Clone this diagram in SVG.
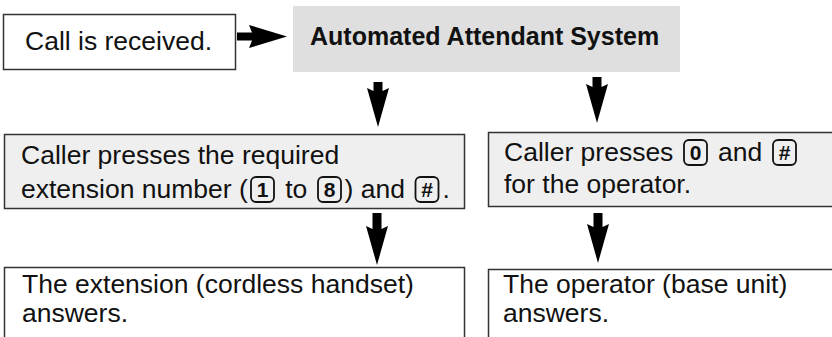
<svg xmlns="http://www.w3.org/2000/svg" width="832" height="337" viewBox="0 0 832 337">
<style>
text{font-family:"Liberation Sans",Arial,Helvetica,sans-serif;font-size:26.5px;fill:#111}
.b{font-weight:bold;font-size:25px}
.k{font-weight:bold;font-size:21px;text-anchor:middle}
.key{fill:none;stroke:#111;stroke-width:1.8}
.box{stroke:#333;stroke-width:1.5}
.arr{fill:#000}
</style>
<g id="connectors">
<path class="arr" d="M237 32.5H252L249 25L287 36.5L249 48L252 40.5H237Z"/>
<path class="arr" d="M373.5 82H382.5V91L389 88L378 127L367 88L373.5 91Z"/>
<path class="arr" d="M592.5 77H601.5V87L608 84L597 123L586 84L592.5 87Z"/>
<path class="arr" d="M372.5 213H381.5V229L388 226L377 265L366 226L372.5 229Z"/>
<path class="arr" d="M593.5 213H602.5V227L609 224L598 263L587 224L593.5 227Z"/>
</g>
<g id="n1">
<rect class="box" x="3.5" y="14.5" width="232" height="55" fill="#fff"/>
<text x="25" y="50">Call is received.</text>
</g>
<g id="n2">
<rect x="293" y="6" width="387" height="66" fill="#dfdfdf"/>
<text class="b" x="310" y="45">Automated Attendant System</text>
</g>
<g id="n3">
<rect class="box" x="4.5" y="134.5" width="460" height="74" fill="#efefef"/>
<text x="21" y="164">Caller presses the required</text>
<text x="21" y="198">extension number (</text>
<rect class="key" x="251" y="177" width="23" height="25" rx="5"/>
<text class="k" x="262.5" y="197">1</text>
<text x="285.2" y="198">to</text>
<rect class="key" x="318" y="177" width="23" height="25" rx="5"/>
<text class="k" x="329.5" y="197">8</text>
<text x="344.6" y="198">) and</text>
<rect class="key" x="415.5" y="177" width="23" height="25" rx="5"/>
<text class="k" x="427" y="197">#</text>
<text x="442.4" y="198">.</text>
</g>
<g id="n4">
<rect class="box" x="488.5" y="132.5" width="360" height="74" fill="#efefef"/>
<text x="504" y="161">Caller presses</text>
<rect class="key" x="684" y="140" width="23" height="25" rx="5"/>
<text class="k" x="695.5" y="160">0</text>
<text x="718.1" y="161">and</text>
<rect class="key" x="773" y="140" width="23" height="25" rx="5"/>
<text class="k" x="784.5" y="160">#</text>
<text x="504" y="193">for the operator.</text>
</g>
<g id="n5">
<rect class="box" x="4.5" y="267.5" width="460" height="90" fill="#fff"/>
<text x="22" y="293">The extension (cordless handset)</text>
<text x="22" y="322">answers.</text>
</g>
<g id="n6">
<rect class="box" x="488.5" y="269.5" width="360" height="90" fill="#fff"/>
<text x="503" y="293">The operator (base unit)</text>
<text x="503" y="322">answers.</text>
</g>
</svg>
